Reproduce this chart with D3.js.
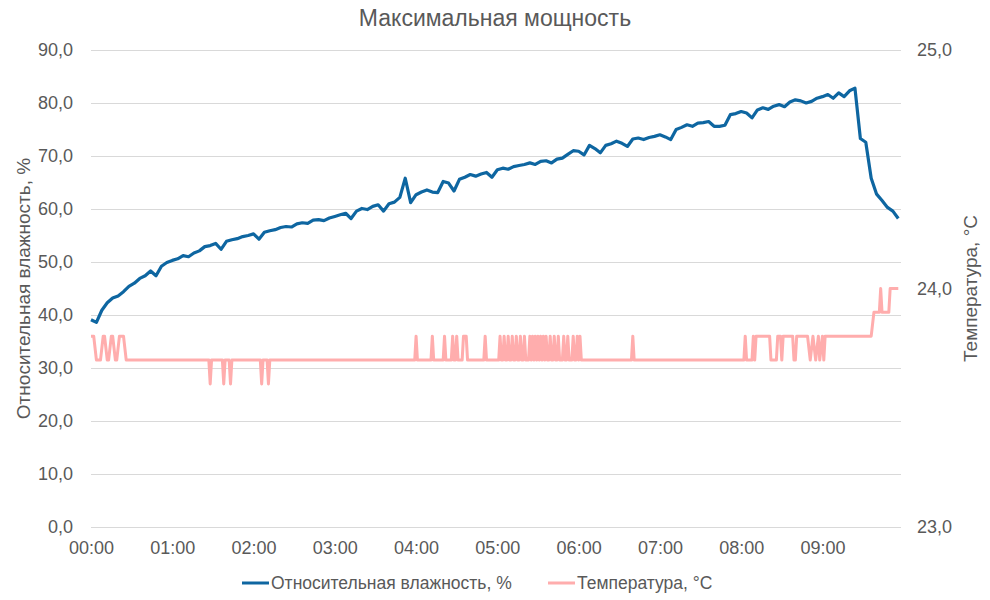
<!DOCTYPE html>
<html>
<head>
<meta charset="utf-8">
<script src="https://cdn.jsdelivr.net/npm/d3@7"></script>
<style>
  body { margin: 0; background: #fff; }
  text { font-family: "Liberation Sans", Arial, sans-serif; fill: #595959; }
</style>
</head>
<body>
<svg width="990" height="600"></svg>
<script>
// hour labels on the x axis (minutes from start)
var hourLabels = ["00:00", "01:00", "02:00", "03:00", "04:00", "05:00", "06:00", "07:00", "08:00", "09:00"];
var hourMinutes = [0, 60, 120, 180, 240, 300, 360, 420, 480, 540];

// relative humidity, one reading every 4 minutes starting at 00:00
var humStep = 4;
var humidity = [
  39.1, 38.6, 40.9, 42.3, 43.2, 43.6, 44.4, 45.4, 46.0, 46.9,
  47.4, 48.3, 47.4, 49.2, 49.9, 50.3, 50.6, 51.2, 51.0, 51.7,
  52.1, 52.9, 53.1, 53.5, 52.4, 53.9, 54.2, 54.4, 54.8, 55.0,
  55.3, 54.3, 55.6, 55.9, 56.1, 56.5, 56.7, 56.6, 57.2, 57.4,
  57.3, 57.9, 58.0, 57.8, 58.3, 58.6, 58.9, 59.2, 58.2, 59.6,
  60.1, 59.9, 60.5, 60.8, 59.6, 61.0, 61.3, 62.2, 65.8, 61.2,
  62.7, 63.2, 63.6, 63.2, 63.1, 65.2, 64.9, 63.4, 65.6, 66.0,
  66.5, 66.2, 66.6, 66.9, 66.0, 67.4, 67.7, 67.5, 68.0, 68.2,
  68.4, 68.7, 68.4, 69.0, 69.1, 68.7, 69.4, 69.6, 70.3, 71.0,
  70.9, 70.2, 72.0, 71.4, 70.6, 72.0, 72.3, 72.8, 72.4, 71.8,
  73.2, 73.4, 73.1, 73.5, 73.7, 74.0, 73.6, 73.1, 75.0, 75.4,
  75.9, 75.6, 76.2, 76.3, 76.5, 75.6, 75.6, 75.8, 77.8, 78.0,
  78.4, 78.1, 77.2, 78.7, 79.1, 78.8, 79.4, 79.7, 79.3, 80.2,
  80.6, 80.4, 80.0, 80.3, 80.9, 81.2, 81.6, 80.9, 81.9, 81.2,
  82.3, 82.8, 73.3, 72.6, 65.8, 62.8, 61.6, 60.3, 59.6, 58.2
];

// temperature: minutes where the trace bends, and the reading there
var tempMinutes = [
  0, 2, 4, 7, 9, 10, 12, 13, 15, 16, 18, 19, 21, 24, 26,
  87, 88, 89, 97, 98, 99, 102, 103, 104, 125, 126, 127, 130, 131, 132,
  239, 240, 241, 251, 252, 253, 260, 261, 262, 266, 267, 268, 269, 270, 271,
  274, 275, 277, 278, 290, 291, 292,
  301, 302, 303, 304, 305, 306, 307, 308, 309, 310, 311, 312, 313, 314, 315,
  316, 317, 318, 319, 320, 321, 323, 324, 325, 326, 327, 328, 329, 330, 331,
  332, 333, 334, 335, 336, 337, 338, 339, 340, 341, 342, 343, 344, 345, 346,
  348, 349, 350, 351, 352, 353, 355, 356, 357, 358, 359, 360, 361, 362,
  399, 400, 401, 482, 483, 484, 488, 489, 490, 491, 501, 502, 506, 507, 509,
  510, 511, 518, 519, 520, 521, 529, 531, 533, 535, 537, 538, 540, 541, 542,
  576, 578, 582, 583, 584, 589, 590, 596
];
var tempValues = [
  23.8, 23.8, 23.7, 23.7, 23.8, 23.8, 23.7, 23.7, 23.8, 23.8, 23.7, 23.7, 23.8, 23.8, 23.7,
  23.7, 23.6, 23.7, 23.7, 23.6, 23.7, 23.7, 23.6, 23.7, 23.7, 23.6, 23.7, 23.7, 23.6, 23.7,
  23.7, 23.8, 23.7, 23.7, 23.8, 23.7, 23.7, 23.8, 23.7, 23.7, 23.8, 23.7, 23.7, 23.8, 23.7,
  23.7, 23.8, 23.8, 23.7, 23.7, 23.8, 23.7,
  23.7, 23.8, 23.7, 23.7, 23.8, 23.7, 23.7, 23.8, 23.7, 23.7, 23.8, 23.7, 23.7, 23.8, 23.7,
  23.7, 23.8, 23.7, 23.7, 23.8, 23.7, 23.7, 23.8, 23.7, 23.8, 23.7, 23.8, 23.7, 23.8, 23.7,
  23.8, 23.7, 23.8, 23.7, 23.8, 23.7, 23.7, 23.8, 23.7, 23.7, 23.8, 23.7, 23.7, 23.8, 23.7,
  23.7, 23.8, 23.7, 23.7, 23.8, 23.7, 23.7, 23.8, 23.7, 23.7, 23.8, 23.7, 23.8, 23.7,
  23.7, 23.8, 23.7, 23.7, 23.8, 23.7, 23.7, 23.8, 23.7, 23.8, 23.8, 23.7, 23.7, 23.8, 23.8,
  23.7, 23.8, 23.8, 23.7, 23.7, 23.8, 23.8, 23.7, 23.8, 23.7, 23.8, 23.7, 23.8, 23.7, 23.8,
  23.8, 23.9, 23.9, 24.0, 23.9, 23.9, 24.0, 24.0
];

var leftTicks = [0, 10, 20, 30, 40, 50, 60, 70, 80, 90];
var rightTicks = [23, 24, 25];

var chartTitle = "Максимальная мощность";
var humLabel = "Относительная влажность, %";
var tempLabel = "Температура, °C";

var humColor = "#0E66A1",
    tempColor = "#FFADAD";

var svg = d3.select("svg"),
    margin = { top: 50, right: 89, bottom: 73, left: 91 },
    width = svg.attr("width") - margin.left - margin.right,
    height = svg.attr("height") - margin.top - margin.bottom;

var xScale = d3.scaleLinear().domain([0, 598]).range([0, width]),
    yLeft = d3.scaleLinear().domain([0, 90]).range([height, 0]),
    yRight = d3.scaleLinear().domain([23, 25]).range([height, 0]);

var comma = function(d) { return d3.format(".1f")(d).replace(".", ","); };

var g = svg.append("g")
    .attr("transform", "translate(" + margin.left + "," + margin.top + ")");

// gridlines
g.selectAll(".grid")
    .data(leftTicks)
    .enter().append("line")
    .attr("x1", 0)
    .attr("x2", width)
    .attr("y1", function(d) { return Math.round(yLeft(d)) + 0.5; })
    .attr("y2", function(d) { return Math.round(yLeft(d)) + 0.5; })
    .attr("stroke", "#D9D9D9")
    .attr("stroke-width", 1);

// left axis
var leftAxis = g.append("g")
    .call(d3.axisLeft(yLeft).tickValues(leftTicks).tickSize(0).tickPadding(18).tickFormat(comma));
leftAxis.select(".domain").remove();

// right axis
var rightAxis = g.append("g")
    .attr("transform", "translate(" + width + ",0)")
    .call(d3.axisRight(yRight).tickValues(rightTicks).tickSize(0).tickPadding(16).tickFormat(comma));
rightAxis.select(".domain").remove();

// x axis
var xAxis = g.append("g")
    .attr("transform", "translate(0," + height + ")")
    .call(d3.axisBottom(xScale).tickValues(hourMinutes).tickSize(0).tickPadding(14)
        .tickFormat(function(d, i) { return hourLabels[i]; }));
xAxis.select(".domain").remove();

svg.selectAll(".tick text")
    .style("font-family", "'Liberation Sans', Arial, sans-serif")
    .style("font-size", "18px")
    .attr("fill", "#595959");

// lines
var tempLine = d3.line()
    .x(function(d, i) { return xScale(tempMinutes[i]); })
    .y(function(d) { return yRight(d); });

g.append("path")
    .datum(tempValues)
    .attr("fill", "none")
    .attr("stroke", tempColor)
    .attr("stroke-width", 3)
    .attr("stroke-linejoin", "round")
    .attr("d", tempLine);

var humLine = d3.line()
    .x(function(d, i) { return xScale(i * humStep); })
    .y(function(d) { return yLeft(d); });

g.append("path")
    .datum(humidity)
    .attr("fill", "none")
    .attr("stroke", humColor)
    .attr("stroke-width", 3.2)
    .attr("stroke-linejoin", "round")
    .attr("d", humLine);

// title
svg.append("text")
    .attr("x", 495)
    .attr("y", 26)
    .attr("text-anchor", "middle")
    .style("font-size", "23px")
    .text(chartTitle);

// axis titles
svg.append("text")
    .attr("transform", "translate(30," + (margin.top + height / 2) + ") rotate(-90)")
    .attr("text-anchor", "middle")
    .style("font-size", "19px")
    .text(humLabel);

svg.append("text")
    .attr("transform", "translate(977," + (margin.top + height / 2) + ") rotate(-90)")
    .attr("text-anchor", "middle")
    .style("font-size", "19px")
    .text(tempLabel);

// legend
var legend = svg.append("g").attr("transform", "translate(0,583)");
var items = [
    { label: humLabel, color: humColor, x: 242 },
    { label: tempLabel, color: tempColor, x: 548 }
];
items.forEach(function(it) {
    legend.append("line")
        .attr("x1", it.x).attr("x2", it.x + 27)
        .attr("y1", 0).attr("y2", 0)
        .attr("stroke", it.color)
        .attr("stroke-width", 3);
    legend.append("text")
        .attr("x", it.x + 29)
        .attr("y", 0)
        .attr("dy", "0.35em")
        .style("font-size", "17.5px")
        .text(it.label);
});
</script>
</body>
</html>
